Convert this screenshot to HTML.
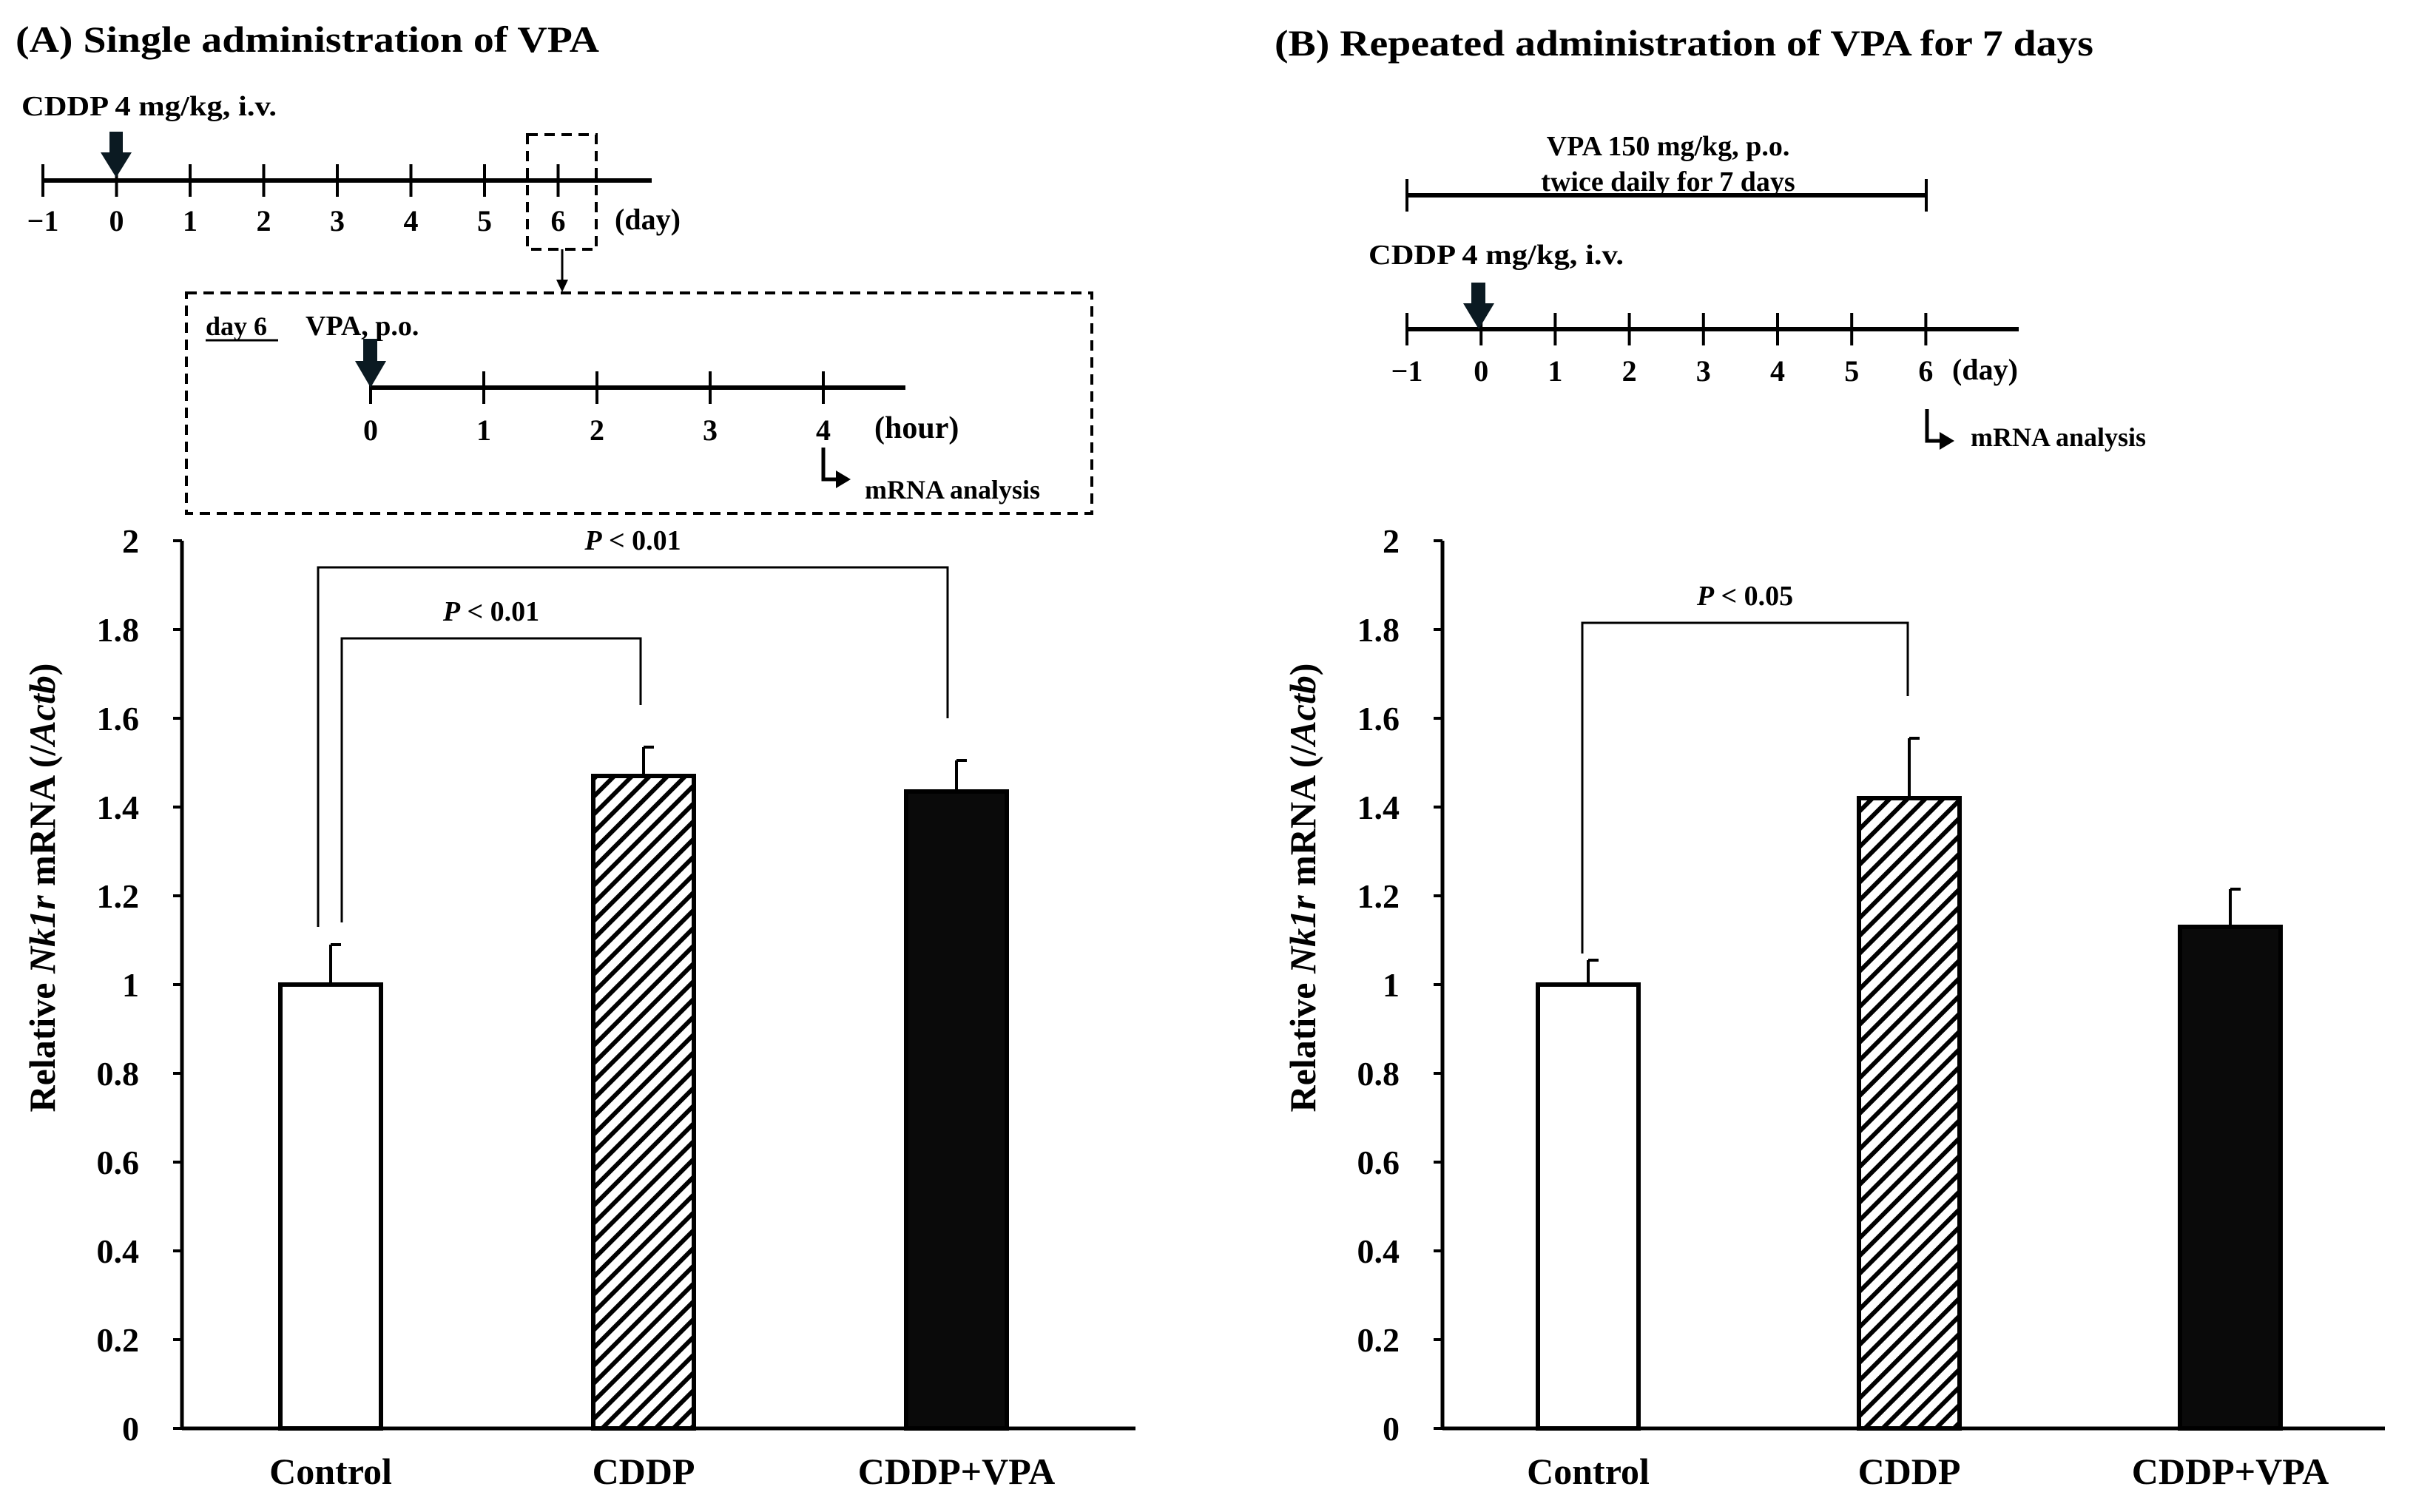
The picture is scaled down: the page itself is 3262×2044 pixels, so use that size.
<!DOCTYPE html>
<html><head><meta charset="utf-8">
<style>
html,body{margin:0;padding:0;background:#fff;}
svg{display:block;font-family:"Liberation Serif",serif;font-weight:bold;}
</style></head>
<body>
<svg id="fig" width="3262" height="2044" viewBox="0 0 3262 2044" xmlns="http://www.w3.org/2000/svg">
<defs>
<pattern id="hatch" patternUnits="userSpaceOnUse" width="17" height="17" patternTransform="rotate(45)">
<rect width="17" height="17" fill="#fff"/>
<rect x="0" y="0" width="6" height="17" fill="#000"/>
</pattern>
</defs>

<!-- Panel A timeline -->
<g>
<text x="21" y="70" font-size="50" textLength="789" lengthAdjust="spacingAndGlyphs">(A) Single administration of VPA</text>
<text x="29" y="156" font-size="38" textLength="345" lengthAdjust="spacingAndGlyphs">CDDP 4 mg/kg, i.v.</text>
<line x1="58" y1="244" x2="881" y2="244" stroke="#000" stroke-width="6"/>
<g id="ticksA"></g>
<text x="831" y="310" font-size="40">(day)</text>
<path d="M148,178 h18 v28 h12 l-21,34 l-21,-34 h12 z" fill="#0b1a22"/>
<rect x="713" y="182" width="93" height="155" fill="none" stroke="#000" stroke-width="4" stroke-dasharray="14,9"/>
<line x1="760" y1="337" x2="760" y2="385" stroke="#000" stroke-width="3"/>
<path d="M752,378 L768,378 L760,395 Z" fill="#000"/>
<rect x="252" y="396" width="1224" height="298" fill="none" stroke="#000" stroke-width="4" stroke-dasharray="14,9"/>
<text x="278" y="453" font-size="36">day 6</text>
<line x1="278" y1="460" x2="376" y2="460" stroke="#000" stroke-width="3"/>
<text x="413" y="453" font-size="38">VPA, p.o.</text>
<line x1="501" y1="524" x2="1224" y2="524" stroke="#000" stroke-width="6"/>
<g id="ticksH"></g>
<text x="1182" y="592" font-size="42">(hour)</text>
<path d="M491,458 h19 v30 h12 l-21,36 l-21,-36 h11 z" fill="#0b1a22"/>
<path d="M1113,605 v43 h22" fill="none" stroke="#000" stroke-width="5"/>
<path d="M1130,636 L1150,648 L1130,660 Z" fill="#000"/>
<text x="1169" y="674" font-size="36">mRNA analysis</text>
</g>

<!-- Panel B timeline -->
<g>
<text x="1723" y="75" font-size="50" textLength="1107" lengthAdjust="spacingAndGlyphs">(B) Repeated administration of VPA for 7 days</text>
<text x="2255" y="210" font-size="38" text-anchor="middle">VPA 150 mg/kg, p.o.</text>
<text x="2255" y="258" font-size="38" text-anchor="middle">twice daily  for 7 days</text>
<line x1="1902" y1="264" x2="2604" y2="264" stroke="#000" stroke-width="6"/>
<line x1="1902" y1="242" x2="1902" y2="286" stroke="#000" stroke-width="4"/>
<line x1="2604" y1="242" x2="2604" y2="286" stroke="#000" stroke-width="4"/>
<text x="1850" y="357" font-size="38" textLength="345" lengthAdjust="spacingAndGlyphs">CDDP 4 mg/kg, i.v.</text>
<line x1="1902" y1="445" x2="2729" y2="445" stroke="#000" stroke-width="6"/>
<g id="ticksB"></g>
<text x="2639" y="513" font-size="40">(day)</text>
<path d="M1989,382 h19 v28 h12 l-21,35 l-21,-35 h11 z" fill="#0b1a22"/>
<path d="M2605,553 v43 h22" fill="none" stroke="#000" stroke-width="5"/>
<path d="M2622,584 L2642,596 L2622,608 Z" fill="#000"/>
<text x="2664" y="603" font-size="36">mRNA analysis</text>
</g>

<g id="chartA"></g>
<g id="chartB"></g>
</svg>
<script>
const categories = ["Control", "CDDP", "CDDP+VPA"];
const valuesA = [1.0, 1.47, 1.435];
const errorsA = [0.09, 0.065, 0.07];
const valuesB = [1.0, 1.42, 1.13];
const errorsB = [0.055, 0.135, 0.085];
const yTicks = [0, 0.2, 0.4, 0.6, 0.8, 1, 1.2, 1.4, 1.6, 1.8, 2];
const dayTicks = ["\u22121", "0", "1", "2", "3", "4", "5", "6"];
const hourTicks = ["0", "1", "2", "3", "4"];
const sigA = [
  {from: 0, to: 2, top: 1.94, leftEnd: 1.13, rightEnd: 1.6, label: "0.01"},
  {from: 0, to: 1, top: 1.78, leftEnd: 1.14, rightEnd: 1.63, label: "0.01"}
];
const sigB = [
  {from: 0, to: 1, top: 1.815, leftEnd: 1.07, rightEnd: 1.65, label: "0.05"}
];

const NS = "http://www.w3.org/2000/svg";
function mk(tag, attrs, parent, text) {
  const el = document.createElementNS(NS, tag);
  for (const k in attrs) el.setAttribute(k, attrs[k]);
  if (text !== undefined) el.textContent = text;
  parent.appendChild(el);
  return el;
}

function timeline(g, labels, x0, step, y, labelY) {
  labels.forEach((lab, i) => {
    const x = x0 + i * step;
    const t = mk("line", {x1: x, y1: y - 22, x2: x, y2: y + 22, stroke: "#000", "stroke-width": 4}, g);
    
    
    const tx = mk("text", {x: x, y: labelY, "font-size": 40, "text-anchor": "middle"}, g, lab);
    
    
  });
}
timeline(document.getElementById("ticksA"), dayTicks, 58, 99.5, 244, 312);
timeline(document.getElementById("ticksH"), hourTicks, 501, 153, 524, 595);
timeline(document.getElementById("ticksB"), dayTicks, 1902, 100.2, 445, 515);

function chart(g, axisX, axisEnd, barCenters, vals, errs, sigs, offs) {
  const y0 = 1931, y2 = 731;
  const yS = v => y0 - (y0 - y2) * v / 2;
  const bw = 136;
  const fills = ["#fff", "url(#hatch)", "#0a0a0a"];
  const xs = i => barCenters[0] + i * (barCenters[1] - barCenters[0]);
  const ax = mk("line", {x1: axisX, y1: y2, x2: axisX, y2: y0, stroke: "#000", "stroke-width": 5}, g);
  
  
  const bx = mk("line", {x1: axisX, y1: y0, x2: axisEnd, y2: y0, stroke: "#000", "stroke-width": 5}, g);
  
  
  yTicks.forEach(v => {
    const y = yS(v);
    const tk = mk("line", {x1: axisX - 12, y1: y, x2: axisX, y2: y, stroke: "#000", "stroke-width": 4}, g);
    
    
    const tl = mk("text", {x: axisX - 58, y: y + 16, "font-size": 46, "text-anchor": "end"}, g, String(v));
    
    
  });
  const tt = mk("text", {transform: "translate(" + (axisX - 172) + ",1200) rotate(-90)", "font-size": 50, "text-anchor": "middle"}, g);
  
  
  mk("tspan", {}, tt, "Relative ");
  mk("tspan", {"font-style": "italic"}, tt, "Nk1r");
  mk("tspan", {}, tt, " mRNA (/");
  mk("tspan", {"font-style": "italic"}, tt, "Actb");
  mk("tspan", {}, tt, ")");
  vals.forEach((v, i) => {
    const cx = xs(i), top = yS(v), etop = yS(v + errs[i]);
    const eb = mk("line", {x1: cx, y1: top, x2: cx, y2: etop, stroke: "#000", "stroke-width": 4}, g);
    
    
    const cap = mk("line", {x1: cx, y1: etop, x2: cx + 14, y2: etop, stroke: "#000", "stroke-width": 4}, g);
    
    
    const r = mk("rect", {x: cx - bw / 2, y: top, width: bw, height: y0 - top, fill: fills[i], stroke: "#000", "stroke-width": 6}, g);
    
    
    const cl = mk("text", {x: cx, y: 2006, "font-size": 50, "text-anchor": "middle"}, g, categories[i]);
    
    
  });
  sigs.forEach((s, k) => {
    const xl = xs(s.from) + offs[k][0], xr = xs(s.to) + offs[k][1];
    const p = mk("path", {d: "M" + xl + "," + yS(s.leftEnd) + " V" + yS(s.top) + " H" + xr + " V" + yS(s.rightEnd), fill: "none", stroke: "#000", "stroke-width": 3}, g);
    
    
    const t = mk("text", {x: (xl + xr) / 2, y: yS(s.top) - 24, "font-size": 38, "text-anchor": "middle"}, g);
    
    
    mk("tspan", {"font-style": "italic"}, t, "P");
    mk("tspan", {}, t, " < " + s.label);
  });
}
chart(document.getElementById("chartA"), 246, 1535, [447, 870], valuesA, errorsA, sigA, [[-17, -12], [15, -4]]);
chart(document.getElementById("chartB"), 1950, 3224, [2147, 2581], valuesB, errorsB, sigB, [[-8, -2]]);
</script>
</body></html>
